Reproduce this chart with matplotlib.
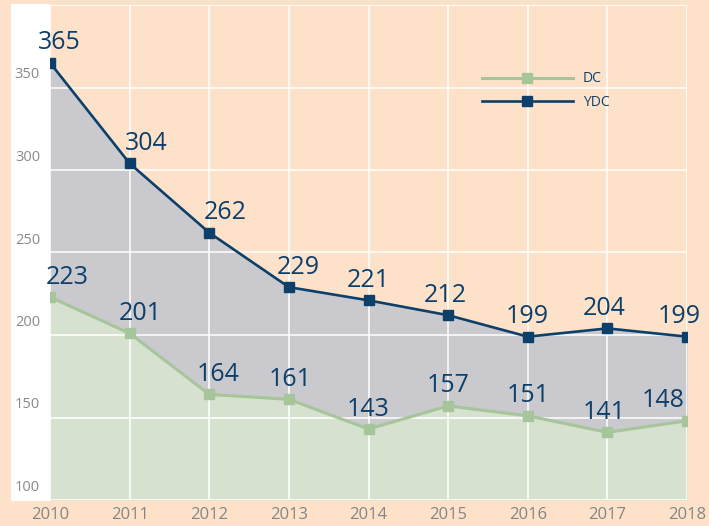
import matplotlib.pyplot as plt
from matplotlib.patches import Rectangle

plt.rcParams['font.family'] = ['Open Sans', 'DejaVu Sans']

years = [2010, 2011, 2012, 2013, 2014, 2015, 2016, 2017, 2018]
dc = [223, 201, 164, 161, 143, 157, 151, 141, 148]
ydc = [365, 304, 262, 229, 221, 212, 199, 204, 199]
y_ticks = [100, 150, 200, 250, 300, 350, 400]

# label nudges in pixels (x only), taken from the reference layout
dc_dx = [17, 11, 9, 1, 0, 0, 0, -3, -24]
ydc_dx = [9, 17, 16, 9, 0, -3, -1, -3, -8]

peach = '#fde2c9'
navy = '#0d3f6b'
green = '#a7c59b'

fig = plt.figure(figsize=(7.09, 5.26), dpi=100, facecolor=peach)
W, H = 709, 526
ax = fig.add_axes([50 / W, 26 / H, 637 / W, 495 / H])
ax.set_facecolor(peach)

# white strip behind the y labels
fig.patches.append(Rectangle((11 / W, 25 / H), 39 / W, 497 / H, transform=fig.transFigure,
                             facecolor='white', edgecolor='none', zorder=-1))

ax.fill_between(years, 100, dc, color='#d6e2cf', lw=0, zorder=1)
ax.fill_between(years, dc, ydc, color='#c9c9ce', lw=0, zorder=1)

ax.set_xlim(2010, 2018)
ax.set_ylim(100, 400)
ax.set_xticks(years)
ax.set_yticks(y_ticks)
ax.set_yticklabels([])
ax.grid(True, color='white', lw=1.1, zorder=2)
ax.set_axisbelow(False)
for s in ax.spines.values():
    s.set_visible(False)
ax.tick_params(length=0, labelsize=12, labelcolor='#858585', pad=5)

for v in y_ticks[:-1]:
    ax.annotate(str(v), xy=(0, v), xycoords=ax.get_yaxis_transform(), xytext=(-10, 5),
                textcoords='offset pixels', ha='right', va='bottom', fontsize=10.5,
                color='#8a8a8a', annotation_clip=False)

ax.plot(years, dc, color=green, lw=2.2, marker='s', markersize=6.5, label='DC', zorder=4)
ax.plot(years, ydc, color=navy, lw=1.9, marker='s', markersize=6.5, label='YDC', zorder=5)

for x, v, dx in zip(years, dc, dc_dx):
    ax.annotate(str(v), xy=(x, v), xytext=(dx, 20), textcoords='offset pixels',
                ha='center', va='center', fontsize=18, color=navy, zorder=6,
                annotation_clip=False)
for x, v, dx in zip(years, ydc, ydc_dx):
    ax.annotate(str(v), xy=(x, v), xytext=(dx, 20), textcoords='offset pixels',
                ha='center', va='center', fontsize=18, color=navy, zorder=6,
                annotation_clip=False)

leg = ax.legend(loc='upper left', bbox_to_anchor=(419 / 637, 1 - 54 / 495),
                frameon=False, fontsize=10, handlelength=6.6, labelspacing=0.6,
                handletextpad=0.7)
for t in leg.get_texts():
    t.set_color(navy)

fig.savefig('out.png', dpi=100, facecolor=peach)
